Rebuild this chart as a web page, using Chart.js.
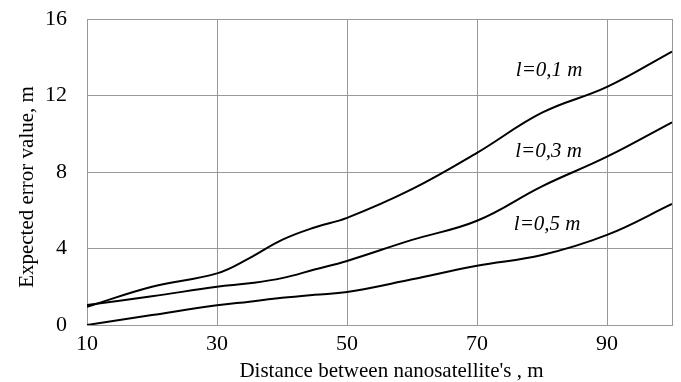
<!DOCTYPE html>
<html>
<head>
<meta charset="utf-8">
<script src="https://cdn.jsdelivr.net/npm/chart.js@4/dist/chart.umd.min.js"></script>
<style>
  html, body { margin: 0; padding: 0; background: #fff; }
  #wrap { width: 681px; height: 382px; position: relative; }
</style>
</head>
<body>
<div id="wrap"><canvas id="myChart"></canvas></div>
<script>
// distances, m
const distances = [10, 20, 30, 35, 40, 45, 50, 60, 70, 80, 90, 100];

// expected error value for each wire length l
const errL01 = [0.95, 2.0, 2.7, 3.5, 4.45, 5.1, 5.6, 7.1, 9.0, 11.1, 12.45, 14.3];
const errL03 = [1.05, 1.5, 2.0, 2.18, 2.45, 2.9, 3.35, 4.45, 5.45, 7.25, 8.8, 10.6];
const errL05 = [0.0, 0.52, 1.03, 1.22, 1.42, 1.58, 1.72, 2.39, 3.1, 3.66, 4.71, 6.33];

const curveLabels = ['l=0,1 m', 'l=0,3 m', 'l=0,5 m'];
// where each curve label sits, in data units
const labelX = [81.1, 81.0, 80.8];
const labelY = [13.33, 9.05, 5.23];

const xTicks = [10, 30, 50, 70, 90];
const xTitle = "Distance between nanosatellite's , m";
const yTitle = 'Expected error value, m';

const toPoints = (ys) => distances.map((d, i) => ({x: d, y: ys[i]}));

const serif = "'Liberation Serif', 'DejaVu Serif', serif";

// curve captions and axis titles
const chartText = {
    id: 'chartText',
    afterDatasetsDraw(chart) {
        const ctx = chart.ctx;
        const xs = chart.scales.x, ys = chart.scales.y;
        const area = chart.chartArea;
        ctx.save();
        ctx.fillStyle = '#000';
        ctx.textAlign = 'center';
        ctx.textBaseline = 'middle';
        ctx.font = 'italic 21px ' + serif;
        curveLabels.forEach((t, i) => {
            ctx.fillText(t, xs.getPixelForValue(labelX[i]), ys.getPixelForValue(labelY[i]));
        });
        ctx.font = '21px ' + serif;
        ctx.fillText(xTitle, (area.left + area.right) / 2 + 12, area.bottom + 46);
        ctx.translate(27, (area.top + area.bottom) / 2 + 15);
        ctx.rotate(-Math.PI / 2);
        ctx.fillText(yTitle, 0, 0);
        ctx.restore();
    }
};

const lineStyle = {
    borderColor: '#000',
    borderWidth: 2,
    pointRadius: 0,
    fill: false,
    tension: 0.4
};

new Chart('myChart', {
    type: 'line',
    data: {
        datasets: [
            Object.assign({label: curveLabels[0], data: toPoints(errL01)}, lineStyle),
            Object.assign({label: curveLabels[1], data: toPoints(errL03)}, lineStyle),
            Object.assign({label: curveLabels[2], data: toPoints(errL05)}, lineStyle)
        ]
    },
    options: {
        responsive: true,
        maintainAspectRatio: false,
        animation: false,
        layout: {padding: {top: 19, right: 9, left: 0, bottom: 0}},
        plugins: {legend: {display: false}, tooltip: {enabled: false}},
        scales: {
            x: {
                type: 'linear',
                min: 10,
                max: 100,
                afterBuildTicks: (s) => { s.ticks = xTicks.concat([100]).map(v => ({value: v})); },
                ticks: {
                    color: '#000',
                    font: {family: serif, size: 22},
                    padding: 6,
                    maxRotation: 0,
                    callback: (v) => v === 100 ? '' : v
                },
                grid: {color: '#999', lineWidth: 1, drawTicks: false},
                border: {color: '#999'},
                afterFit: (s) => { s.height = 57; s.paddingLeft = 0; s.paddingRight = 0; }
            },
            y: {
                min: 0,
                max: 16,
                ticks: {
                    stepSize: 4,
                    color: '#000',
                    font: {family: serif, size: 22},
                    padding: 20
                },
                grid: {color: '#999', lineWidth: 1, drawTicks: false},
                border: {color: '#999'},
                afterFit: (s) => { s.width = 87; s.paddingTop = 0; s.paddingBottom = 0; }
            }
        }
    },
    plugins: [chartText]
});
</script>
</body>
</html>
